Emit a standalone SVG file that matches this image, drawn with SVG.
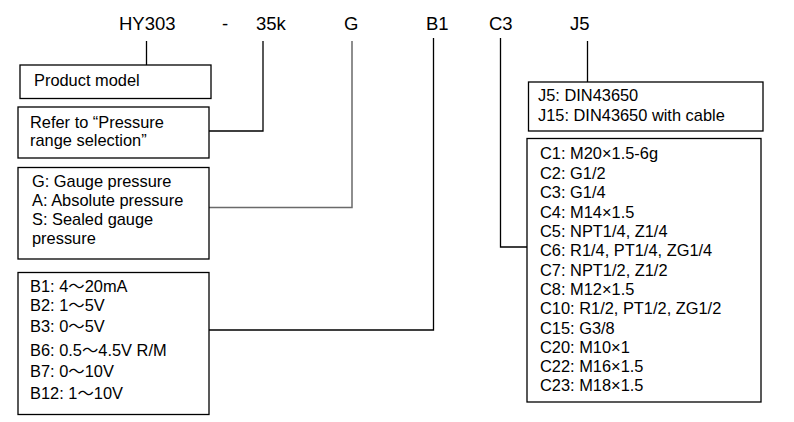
<svg xmlns="http://www.w3.org/2000/svg" width="794" height="422" viewBox="0 0 794 422">
<style>
text{font-family:"Liberation Sans","Noto Sans CJK SC",Arial,sans-serif;fill:#000}
.code{font-size:18.5px}
.t{font-size:16.4px}
.box{fill:#fff;stroke:#000;stroke-width:1.3}
.ln{fill:none;stroke:#000;stroke-width:1.3}
.grey{stroke:#6a6a6a;stroke-width:1.5}
</style>
<rect width="794" height="422" fill="#fff"/>
<g id="codes">
<text class="code" x="119" y="30">HY303</text>
<text class="code" x="222" y="30">-</text>
<text class="code" x="256" y="30">35k</text>
<text class="code" x="344" y="30">G</text>
<text class="code" x="426" y="30">B1</text>
<text class="code" x="489" y="30">C3</text>
<text class="code" x="570" y="30">J5</text>
</g>
<g id="connectors">
<path class="ln" d="M146.5,41 V65"/>
<path class="ln" d="M263,41 V131 H209"/>
<path class="ln grey" d="M352,41 V207.5 H209"/>
<path class="ln" d="M433.5,38 V330 H209"/>
<path class="ln" d="M500.5,38 V247 H527"/>
<path class="ln" d="M587.5,41 V82"/>
</g>
<g id="node-model">
<rect class="box" x="20" y="65" width="191" height="33.5"/>
<text class="t" x="34" y="86">Product model</text>
</g>
<g id="node-range">
<rect class="box" x="18" y="107" width="191" height="51"/>
<text class="t" x="30" y="128">Refer to “Pressure</text>
<text class="t" x="30" y="146">range selection”</text>
</g>
<g id="node-pressure">
<rect class="box" x="18" y="167.5" width="191" height="91.5"/>
<text class="t" x="32" y="187">G: Gauge pressure</text>
<text class="t" x="32" y="206">A: Absolute pressure</text>
<text class="t" x="32" y="225">S: Sealed gauge</text>
<text class="t" x="32" y="244">pressure</text>
</g>
<g id="node-output">
<rect class="box" x="18" y="272.5" width="191" height="142"/>
<text class="t" x="30" y="292">B1: 4～20mA</text>
<text class="t" x="30" y="311">B2: 1～5V</text>
<text class="t" x="30" y="332">B3: 0～5V</text>
<text class="t" x="30" y="356">B6: 0.5～4.5V R/M</text>
<text class="t" x="30" y="377">B7: 0～10V</text>
<text class="t" x="30" y="399">B12: 1～10V</text>
</g>
<g id="node-connector">
<rect class="box" x="528.5" y="82" width="234.5" height="49"/>
<text class="t" x="538" y="101">J5: DIN43650</text>
<text class="t" x="538" y="121">J15: DIN43650 with cable</text>
</g>
<g id="node-thread">
<rect class="box" x="527" y="138.5" width="234" height="263.5"/>
<text class="t" x="540" y="159">C1: M20×1.5-6g</text>
<text class="t" x="540" y="178.5">C2: G1/2</text>
<text class="t" x="540" y="198">C3: G1/4</text>
<text class="t" x="540" y="217.5">C4: M14×1.5</text>
<text class="t" x="540" y="236.5">C5: NPT1/4, Z1/4</text>
<text class="t" x="540" y="255.5">C6: R1/4, PT1/4, ZG1/4</text>
<text class="t" x="540" y="275.5">C7: NPT1/2, Z1/2</text>
<text class="t" x="540" y="294.5">C8: M12×1.5</text>
<text class="t" x="540" y="314">C10: R1/2, PT1/2, ZG1/2</text>
<text class="t" x="540" y="333.5">C15: G3/8</text>
<text class="t" x="540" y="352.5">C20: M10×1</text>
<text class="t" x="540" y="371.5">C22: M16×1.5</text>
<text class="t" x="540" y="391">C23: M18×1.5</text>
</g>
</svg>
